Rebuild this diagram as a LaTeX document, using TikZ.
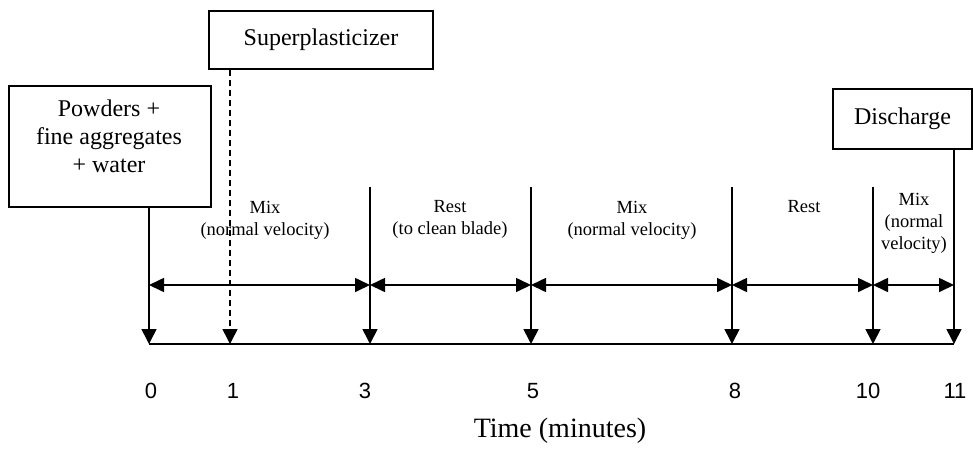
\documentclass[tikz,border=0pt]{standalone}
\usepackage{fontspec}
\setmainfont{Liberation Serif}
\newfontfamily\numfont{Liberation Sans}
\usepackage{tikz}
\usetikzlibrary{arrows.meta,positioning,calc}

\begin{document}
\begin{tikzpicture}[
    x = 1pt,
    y = -1pt,
    line width = 1.6pt,
    eventbox/.style={draw, inner sep=0pt, font=\fontsize{24}{28}\selectfont},
    droparrow/.style={-{Triangle[length=15pt,width=15pt]}},
    phasearrow/.style={{Triangle[length=15pt,width=14pt]}-{Triangle[length=15pt,width=14pt]}},
    phase/.style={align=center, anchor=north, inner sep=0pt, font=\fontsize{18.5}{22}\selectfont},
    minute/.style={inner sep=0pt, font=\numfont\fontsize{22}{26}\selectfont}
    ]
    \useasboundingbox (0,0) rectangle (973,448);
    % time axis points
    \foreach \n/\x in {0/149,1/230,3/370,5/531,8/732,10/873,11/954} {
        \coordinate (t\n) at (\x,344);
        \coordinate (m\n) at (\x,285);
        \coordinate (s\n) at (\x,187);
    }
    % boxes
    \node[eventbox, minimum width=202pt, minimum height=121pt, anchor=north west] (powders) at (8,85) {};
    \node[anchor=north, inner sep=0pt, align=center, font=\fontsize{24}{28}\selectfont] (powderstext) at (109,99.5) {Powders +\\fine aggregates\\+ water};
    \node[eventbox, minimum width=224pt, minimum height=58pt] (superp) at (321,40) {Superplasticizer};
    \node[eventbox, minimum width=139pt, minimum height=60pt] (discharge) at (902.5,119) {Discharge};
    % verticals
    \draw[droparrow] (powders.south -| t0) -- (t0);
    \draw[droparrow, dash pattern=on 6pt off 4pt] (superp.south -| t1) -- (t1);
    \foreach \n in {3,5,8,10}
        \draw[droparrow] (s\n) -- (t\n);
    \draw[droparrow] (discharge.south -| t11) -- (t11);
    \draw (t0) -- (t11);
    % phases
    \foreach \a/\b in {0/3,3/5,5/8,8/10,10/11}
        \draw[phasearrow] (m\a) -- (m\b);
    \node[phase] (mix1) at (265,200) {Mix\\(normal velocity)};
    \node[phase] (rest1) at (450,200) {Rest\\(to clean blade)};
    \node[phase] (mix2) at (632,200) {Mix\\(normal velocity)};
    \node[phase] (rest2) at (804,200) {Rest};
    \node[phase] (mix3) at (914,192) {Mix\\(normal\\velocity)};
    % minutes
    \node[minute] (n0) at (151,391) {0};
    \node[minute] (n1) at (233,391) {1};
    \node[minute] (n3) at (365,391) {3};
    \node[minute] (n5) at (533,391) {5};
    \node[minute] (n8) at (735,391) {8};
    \node[minute] (n10) at (868,391) {10};
    \node[minute] (n11) at (955,391) {11};
    \node[anchor=base, font=\fontsize{28}{32}\selectfont] (timelabel) at (560,437) {Time (minutes)};
\end{tikzpicture}
\end{document}
